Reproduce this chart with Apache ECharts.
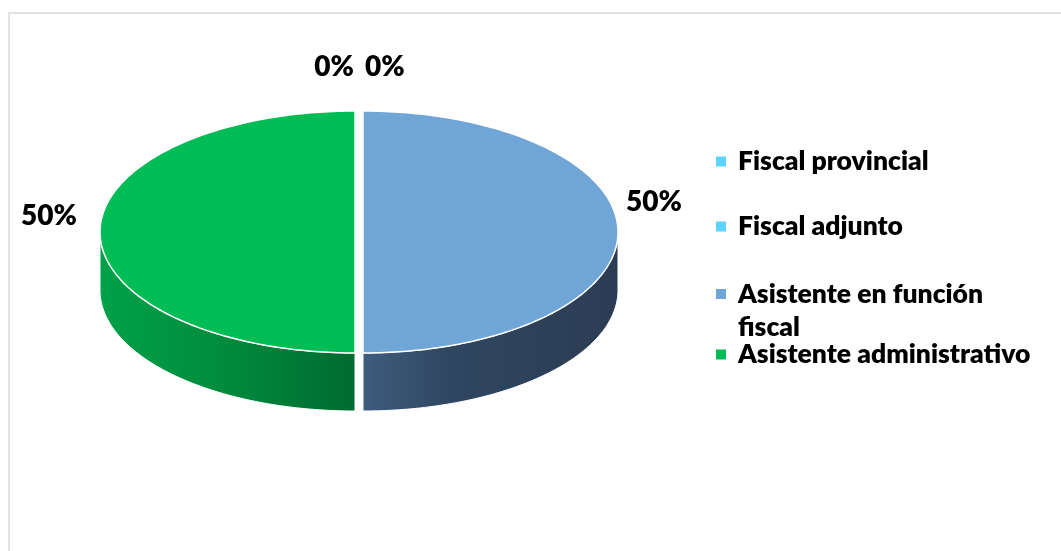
<!DOCTYPE html>
<html>
<head>
<meta charset="utf-8">
<script src="https://cdn.jsdelivr.net/npm/echarts@6/dist/echarts.min.js"></script>
<style>html,body{margin:0;padding:0;background:#fff}#c{width:1061px;height:551px}</style>
</head>
<body>
<div id="c"></div>
<script>
// ---- data ----
const categories = ['Fiscal provincial', 'Fiscal adjunto', 'Asistente en función fiscal', 'Asistente administrativo'];
const values = [0, 0, 1, 1];

// ---- styles ----
const colors = ['#5DD3FF', '#5DD3FF', '#70A5D8', '#00BC55'];
const sideStops = [
  [{offset: 0, color: '#3fb8e6'}, {offset: 1, color: '#2a7fa3'}],
  [{offset: 0, color: '#3fb8e6'}, {offset: 1, color: '#2a7fa3'}],
  [{offset: 0, color: '#3f5c7e'}, {offset: 0.35, color: '#2f4660'}, {offset: 1, color: '#2b3d54'}],
  [{offset: 0, color: '#00a248'}, {offset: 0.5, color: '#008a3d'}, {offset: 1, color: '#006a2f'}]
];
const PIE = {cx: 359, cy: 232, rx: 255, ry: 121, depth: 58, explode: 4};
const labelOffsets = [[-5, -40, 'right'], [6, -40, 'left'], [8, -30, 'left'], [-23, -16, 'right']];
const legendTops = [145, 210, 244.5, 338];
const legendWrap = {'Asistente en función fiscal': '\nAsistente en función\nfiscal'};
const FONT_WEIGHT = 800;

const chart = echarts.init(document.getElementById('c'), null, {renderer: 'canvas'});

function renderSlice(i) {
  return function (params, api) {
    const total = values.reduce((a, b) => a + b, 0);
    let cum = 0;
    for (let k = 0; k < i; k++) cum += values[k];
    const v = api.value(0);
    const t1 = cum / total * 2 * Math.PI;
    const t2 = (cum + v) / total * 2 * Math.PI;
    const mid = (t1 + t2) / 2;
    const ox = PIE.cx + PIE.explode * Math.sin(mid);
    const oy = PIE.cy - PIE.explode * Math.cos(mid);
    const pt = (t, d) => [ox + PIE.rx * Math.sin(t), oy - PIE.ry * Math.cos(t) + (d || 0)];
    const arc = (a, b, d) => {
      const n = Math.max(2, Math.ceil((b - a) / (Math.PI / 180)));
      const out = [];
      for (let j = 0; j <= n; j++) out.push(pt(a + (b - a) * j / n, d));
      return out;
    };
    const children = [];
    if (v > 0) {
      const a = Math.max(t1, Math.PI / 2), b = Math.min(t2, Math.PI * 1.5);
      if (b > a) {
        const pts = arc(a, b, 0).concat(arc(a, b, PIE.depth).reverse());
        children.push({
          type: 'polygon', shape: {points: pts},
          style: {fill: new echarts.graphic.LinearGradient(0, 0, 1, 0, sideStops[i]), stroke: '#fff', lineWidth: 1}
        });
      }
      children.push({
        type: 'polygon', shape: {points: [[ox, oy]].concat(arc(t1, t2, 0))},
        style: {fill: colors[i], stroke: '#fff', lineWidth: 1.5}
      });
    }
    const lp = pt(mid, 0);
    const lo = labelOffsets[i];
    children.push({
      type: 'text',
      style: {
        text: Math.round(v / total * 100) + '%',
        x: lp[0] + lo[0], y: lp[1] + lo[1],
        fill: '#000', font: FONT_WEIGHT + ' 28px Lato',
        align: lo[2], textAlign: lo[2],
        verticalAlign: 'middle', textVerticalAlign: 'middle'
      }
    });
    return {type: 'group', children: children};
  };
}

const option = {
  animation: false,
  backgroundColor: '#fff',
  graphic: [{
    type: 'rect', silent: true, z: -10,
    shape: {x: 9, y: 13, width: 1100, height: 600},
    style: {fill: 'none', stroke: '#d9d9d9', lineWidth: 1.5}
  }],
  legend: categories.map((name, i) => ({
    data: [name],
    orient: 'vertical',
    left: 716,
    top: legendTops[i],
    padding: 0,
    icon: 'rect',
    itemWidth: 10,
    itemHeight: 10,
    selectedMode: false,
    formatter: n => legendWrap[n] || n,
    textStyle: {
      fontFamily: 'Lato', fontWeight: FONT_WEIGHT, fontSize: 26.5, color: '#000',
      lineHeight: 33,
      padding: [0, 0, 0, 7]
    }
  })),
  series: categories.map((name, i) => ({
    type: 'custom',
    name: name,
    coordinateSystem: 'none',
    itemStyle: {color: colors[i]},
    renderItem: renderSlice(i),
    data: [[values[i]]],
    silent: true
  }))
};
chart.setOption(option);
</script>
</body>
</html>
